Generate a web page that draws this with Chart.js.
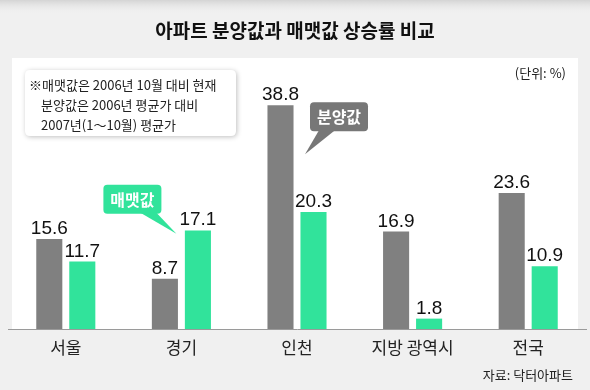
<!DOCTYPE html>
<html>
<head>
<meta charset="utf-8">
<script src="https://cdn.jsdelivr.net/npm/chart.js@4"></script>
<style>
  html, body { margin: 0; padding: 0; background: #f0f0f0; }
  #wrap { width: 590px; height: 390px; }
</style>
</head>
<body>
<div id="wrap"><canvas id="chart" width="590" height="390"></canvas></div>
<script>
// chart data
const categories = ['서울', '경기', '인천', '지방 광역시', '전국'];
const saleValues = [15.6, 8.7, 38.8, 16.9, 23.6];   // 분양값
const tradeValues = [11.7, 17.1, 20.3, 1.8, 10.9];  // 매맷값
const seriesNames = ['분양값', '매맷값'];

const titleText = '아파트 분양값과 매맷값 상승률 비교';
const unitText = '(단위: %)';
const sourceText = '자료: 닥터아파트';
const noteLines = ['※매맷값은 2006년 10월 대비 현재', '분양값은 2006년 평균가 대비', '2007년(1～10월) 평균가'];

const GRAY = '#808080';
const GREEN = '#31e39b';
const KR = "'Noto Sans CJK KR', 'Noto Sans', sans-serif";
const NUM = "'Liberation Sans', Arial, sans-serif";

function roundRect(ctx, x, y, w, h, r) {
    ctx.beginPath();
    ctx.moveTo(x + r, y);
    ctx.lineTo(x + w - r, y);
    ctx.quadraticCurveTo(x + w, y, x + w, y + r);
    ctx.lineTo(x + w, y + h - r);
    ctx.quadraticCurveTo(x + w, y + h, x + w - r, y + h);
    ctx.lineTo(x + r, y + h);
    ctx.quadraticCurveTo(x, y + h, x, y + h - r);
    ctx.lineTo(x, y + r);
    ctx.quadraticCurveTo(x, y, x + r, y);
    ctx.closePath();
}

// background panel, title, note box
const backdrop = {
    id: 'backdrop',
    beforeDraw(chart) {
        const { ctx, width, height, chartArea } = chart;
        ctx.save();
        ctx.fillStyle = '#f0f0f0';
        ctx.fillRect(0, 0, width, height);
        const g = ctx.createLinearGradient(0, 0, 0, 14);
        g.addColorStop(0, '#d4d4d4');
        g.addColorStop(1, 'rgba(240,240,240,0)');
        ctx.fillStyle = g;
        ctx.fillRect(0, 0, width, 14);
        // white plot panel
        ctx.fillStyle = '#ffffff';
        ctx.fillRect(12, chartArea.top, 566, chartArea.bottom - chartArea.top);
        // title
        ctx.fillStyle = '#111';
        ctx.font = 'bold 19px ' + KR;
        ctx.textAlign = 'center';
        ctx.textBaseline = 'middle';
        ctx.fillText(titleText, width / 2, 31);
        ctx.restore();
    },
    afterDatasetsDraw(chart) {
        const { ctx, width, height } = chart;
        ctx.save();
        // value labels above bars
        ctx.font = '19px ' + NUM;
        ctx.fillStyle = '#111';
        ctx.textAlign = 'center';
        ctx.textBaseline = 'alphabetic';
        chart.data.datasets.forEach((ds, i) => {
            chart.getDatasetMeta(i).data.forEach((bar, j) => {
                ctx.fillText(ds.data[j].toFixed(1), bar.x, bar.y - 5);
            });
        });

        // unit
        ctx.font = '13px ' + KR;
        ctx.fillStyle = '#222';
        ctx.textAlign = 'right';
        ctx.textBaseline = 'middle';
        ctx.fillText(unitText, 566, 73);
        // source
        ctx.fillText(sourceText, 573, 375);

        // note box
        ctx.save();
        ctx.shadowColor = 'rgba(0,0,0,0.25)';
        ctx.shadowBlur = 5;
        ctx.shadowOffsetX = 1;
        ctx.shadowOffsetY = 1;
        ctx.fillStyle = '#fff';
        roundRect(ctx, 25, 70, 211, 66, 5);
        ctx.fill();
        ctx.restore();
        ctx.fillStyle = '#222';
        ctx.textAlign = 'left';
        ctx.font = '13px ' + KR;
        ctx.fillText(noteLines[0], 29, 85);
        ctx.fillText(noteLines[1], 41, 105);
        ctx.fillText(noteLines[2], 41, 125);

        // callouts
        const x = chart.scales.x, y = chart.scales.y;
        const drawCallout = (color, text, tipX, tipY, bx, by, t1, t2) => {
            ctx.fillStyle = color;
            roundRect(ctx, bx, by, 58, 29, 4);
            ctx.fill();
            ctx.beginPath();
            ctx.moveTo(t1, by + 28);
            ctx.lineTo(tipX, tipY);
            ctx.lineTo(t2, by + 28);
            ctx.closePath();
            ctx.fill();
            ctx.fillStyle = '#fff';
            ctx.font = 'bold 16px ' + KR;
            ctx.textAlign = 'center';
            ctx.fillText(text, bx + 29, by + 15);
        };
        const tipA = { x: x.getPixelForValue(2) + 8, y: y.getPixelForValue(30.3) };
        drawCallout('#777777', seriesNames[0], tipA.x, tipA.y, tipA.x + 5, tipA.y - 52, tipA.x + 14, tipA.x + 30);
        const tipB = { x: x.getPixelForValue(1) - 5, y: y.getPixelForValue(16.5) };
        drawCallout(GREEN, seriesNames[1], tipB.x, tipB.y, tipB.x - 73, tipB.y - 49, tipB.x - 36, tipB.x - 20);
        ctx.restore();
    }
};

new Chart(document.getElementById('chart'), {
    type: 'bar',
    data: {
        labels: categories,
        datasets: [
            { label: seriesNames[0], data: saleValues, backgroundColor: GRAY },
            { label: seriesNames[1], data: tradeValues, backgroundColor: GREEN }
        ]
    },
    options: {
        responsive: false,
        animation: false,
        devicePixelRatio: 1,
        categoryPercentage: 0.571,
        barPercentage: 0.79,
        layout: { padding: { top: 58, left: 8, right: 4, bottom: 0 } },
        plugins: { legend: { display: false }, tooltip: { enabled: false } },
        scales: {
            y: { display: false, min: 0, max: 47 },
            x: {
                grid: { display: false, drawTicks: false },
                border: { display: true, color: '#9a9a9a', width: 1 },
                ticks: { color: '#222', font: { family: KR, size: 17 }, padding: 8 },
                afterFit(scale) { scale.height = 61; }
            }
        }
    },
    plugins: [backdrop]
});
</script>
</body>
</html>
